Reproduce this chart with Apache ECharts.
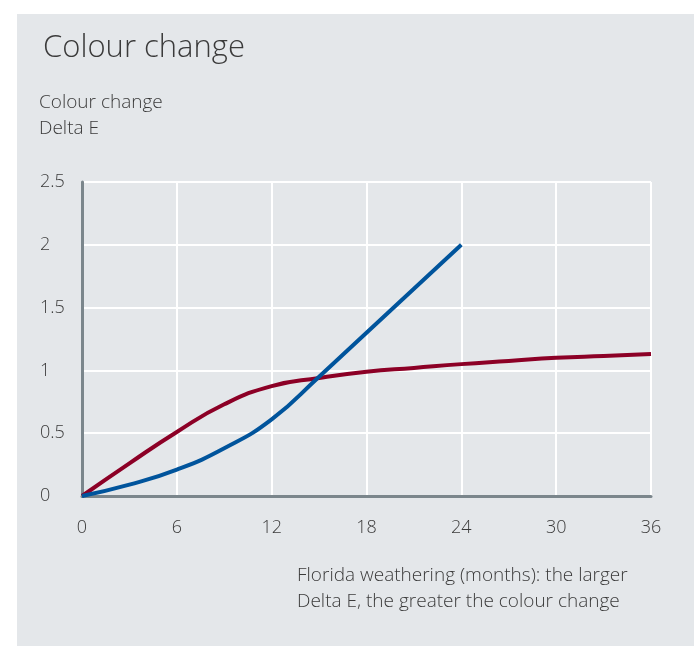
<!DOCTYPE html>
<html lang="en">
<head>
    <meta charset="UTF-8">
    <title>Colour change</title>
    <script type="text/javascript" src="https://cdn.jsdelivr.net/npm/echarts@6/dist/echarts.min.js"></script>
    <style>
        html, body { margin: 0; padding: 0; background: #fff; }
    </style>
</head>
<body>
<div id="myChart" style="width:694px;height:646px;"></div>
<script type="text/javascript">
    // 月份 / Delta E 值
    var months = [0, 3, 6, 9, 12, 15, 18, 21, 24, 27, 30, 33, 36];
    var redValues = [0, 0.26, 0.51, 0.73, 0.875, 0.94, 0.99, 1.02, 1.05, 1.075, 1.10, 1.115, 1.13];
    var blueMonths = [0, 3, 6, 9, 12, 15, 18, 21, 24];
    var blueValues = [0, 0.09, 0.21, 0.38, 0.61, 0.95, 1.30, 1.65, 2.0];
    var xTicks = [0, 6, 12, 18, 24, 30, 36];
    var yTicks = [0, 0.5, 1, 1.5, 2, 2.5];

    function pairs(xs, ys) {
        var out = [];
        for (var i = 0; i < xs.length; i++) out.push([xs[i], ys[i]]);
        return out;
    }

    var textColor = '#3b3b3b';
    var fontFamily = '"Open Sans", Roboto, sans-serif';

    var myChart = echarts.init(document.getElementById('myChart'));
    var option = {
        backgroundColor: '#fff',
        animation: false,
        textStyle: { fontFamily: fontFamily },
        title: {
            text: 'Colour change',
            left: 38,
            top: 28,
            textStyle: { fontSize: 31, fontWeight: 300, color: textColor, fontFamily: fontFamily }
        },
        graphic: [
            {
                type: 'rect', z: -10, silent: true,
                shape: { x: 17, y: 14, width: 677, height: 632 },
                style: { fill: '#e4e7ea' }
            },
            {
                type: 'text', left: 39, top: 90,
                style: {
                    text: 'Colour change\nDelta E',
                    fontSize: 19, fontWeight: 300, lineHeight: 26, fill: textColor, fontFamily: fontFamily
                }
            },
            {
                type: 'text', left: 297, top: 563,
                style: {
                    text: 'Florida weathering (months): the larger\nDelta E, the greater the colour change',
                    fontSize: 19, fontWeight: 300, lineHeight: 26, fill: textColor, fontFamily: fontFamily
                }
            }
        ],
        grid: {
            left: 82,
            right: 43,
            top: 182,
            bottom: 150
        },
        xAxis: {
            type: 'value',
            min: xTicks[0],
            max: xTicks[xTicks.length - 1],
            interval: 6,
            axisLine: { show: true, onZero: false, lineStyle: { color: '#7b868c', width: 3 } },
            axisTick: { show: false },
            axisLabel: { margin: 23, fontSize: 18, fontWeight: 300, color: textColor },
            splitLine: { show: true, lineStyle: { color: '#ffffff', width: 2 } }
        },
        yAxis: {
            type: 'value',
            min: yTicks[0],
            max: yTicks[yTicks.length - 1],
            interval: 0.5,
            axisLine: { show: true, lineStyle: { color: '#7b868c', width: 3 } },
            axisTick: { show: false },
            axisLabel: { margin: 42, align: 'left', fontSize: 18, fontWeight: 300, color: textColor },
            splitLine: { show: true, lineStyle: { color: '#ffffff', width: 2 } }
        },
        series: [
            {
                name: 'red',
                type: 'line',
                smooth: 0.5,
                showSymbol: false,
                data: pairs(months, redValues),
                lineStyle: { color: '#8c0026', width: 4 },
                z: 3
            },
            {
                name: 'blue',
                type: 'line',
                smooth: 0.5,
                showSymbol: false,
                data: pairs(blueMonths, blueValues),
                lineStyle: { color: '#00549c', width: 4 },
                z: 4
            }
        ]
    };
    myChart.setOption(option);
</script>
</body>
</html>
